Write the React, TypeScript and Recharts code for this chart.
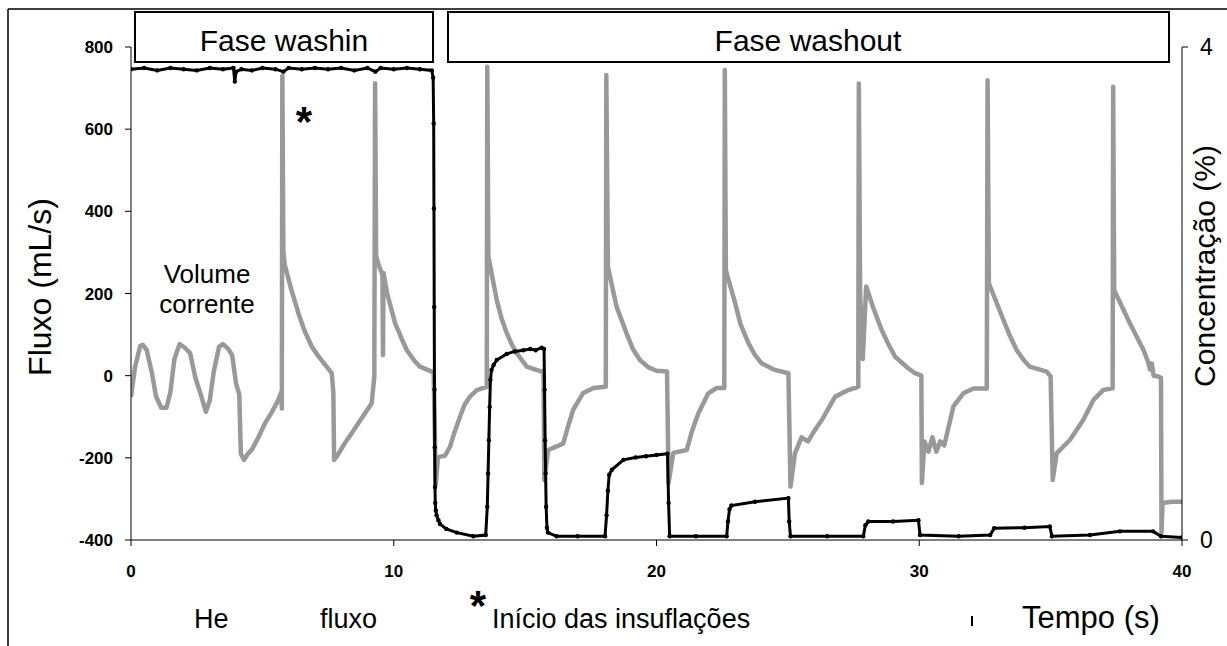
import React from 'react';
import { ComposedChart, Line, XAxis, YAxis } from 'recharts';

// Flow (mL/s), gray series, left axis
const flowTime: number[] = [
  0, 0.15, 0.35, 0.45, 0.6, 0.8, 0.95, 1.15, 1.35, 1.5, 1.65, 1.85, 2.05, 2.25, 2.45, 2.65, 2.85, 3.0, 3.15, 3.35,
  3.5, 3.7, 3.85, 4.0, 4.12, 4.18, 4.3, 4.45, 4.6, 4.85, 5.1, 5.35, 5.6, 5.72, 5.74, 5.76, 5.8, 5.85, 6.1, 6.37,
  6.6, 6.88, 7.1, 7.39, 7.64, 7.7, 7.73, 7.85, 8.14, 8.4, 8.65, 8.9, 9.16, 9.26, 9.29, 9.33, 9.45, 9.57, 9.59, 9.61,
  9.75, 10.05, 10.3, 10.5, 10.8, 11.0, 11.45, 11.52, 11.6, 11.68, 11.76, 11.95, 12.14, 12.3, 12.52, 12.7, 12.9, 13.16, 13.54, 13.56,
  13.6, 13.92, 14.1, 14.3, 14.5, 14.68, 15.06, 15.63, 15.7, 15.73, 15.88, 16.2, 16.45, 16.65, 16.83, 17.2, 17.6, 18.07, 18.09, 18.15,
  18.48, 18.86, 19.1, 19.37, 19.7, 20.0, 20.4, 20.46, 20.64, 21.15, 21.35, 21.6, 21.97, 22.29, 22.58, 22.6, 22.64, 22.99, 23.2, 23.5,
  23.75, 24.0, 24.5, 25.02, 25.1, 25.27, 25.52, 25.77, 26.0, 26.29, 26.8, 27.3, 27.68, 27.7, 27.75, 27.85, 27.98, 28.25, 28.57, 28.8,
  29.08, 29.58, 29.84, 30.08, 30.1, 30.2, 30.35, 30.5, 30.65, 30.8, 30.95, 31.3, 31.68, 32.06, 32.57, 32.6, 32.65, 33.2, 33.45, 33.7,
  33.95, 34.2, 34.85, 35.0, 35.08, 35.23, 35.74, 36.24, 36.63, 37.0, 37.36, 37.38, 37.42, 38.02, 38.53, 38.7, 38.78, 38.85, 38.92, 39.1,
  39.2, 39.22, 39.26, 39.6, 40.0,
];
const flowValue: number[] = [
  -52, 20, 72, 75, 62, 5, -50, -78, -78, -40, 40, 77, 68, 55, -5, -45, -88, -60, 10, 70,
  77, 65, 50, -20, -45, -190, -205, -190, -180, -150, -116, -90, -60, -40, -80, 730, 300, 270, 210, 152,
  110, 71, 50, 26, 6, -40, -205, -195, -164, -140, -116, -92, -67, -2, 712, 290, 265, 245, 50, 250,
  200, 128, 90, 62, 35, 22, 10, 5, -265, -200, -197, -195, -173, -140, -100, -70, -51, -35, -27, 752,
  290, 184, 140, 104, 75, 55, 22, 10, 12, -254, -181, -172, -165, -120, -83, -43, -30, -27, 732, 265,
  168, 103, 65, 38, 20, 12, 10, -261, -188, -181, -135, -91, -43, -30, -30, 744, 257, 177, 125, 79,
  50, 30, 14, 6, -270, -189, -150, -160, -135, -108, -51, -35, -27, 711, 200, 40, 217, 165, 111, 80,
  46, 18, 6, 0, -261, -160, -185, -150, -185, -160, -170, -75, -43, -31, -31, 719, 225, 136, 97, 63,
  40, 22, 10, -2, -254, -189, -156, -108, -59, -35, -31, 703, 208, 127, 63, 35, 15, 30, 0, -2,
  -5, -383, -310, -307, -307,
];

// He concentration (%), black series, right axis
const concTime: number[] = [
  0, 0.5, 1.0, 1.5, 2.0, 2.5, 3.0, 3.5, 3.9, 3.95, 4.0, 4.2, 4.6, 5.0, 5.5, 5.8, 6.0, 6.5, 7.0, 7.5,
  8.0, 8.5, 9.0, 9.3, 9.5, 10.0, 10.5, 11.0, 11.45, 11.5, 11.52, 11.53, 11.54, 11.55, 11.56, 11.57, 11.58, 11.6, 11.63, 11.7,
  11.76, 12.0, 12.4, 13.03, 13.5, 13.56, 13.59, 13.62, 13.65, 13.68, 13.72, 13.8, 13.92, 14.3, 14.6, 14.93, 15.2, 15.4, 15.63, 15.72,
  15.74, 15.76, 15.78, 15.8, 15.83, 15.87, 16.2, 17.0, 18.04, 18.1, 18.15, 18.2, 18.3, 18.74, 19.2, 19.6, 20.0, 20.42, 20.46, 20.5,
  21.5, 22.67, 22.72, 22.78, 22.85, 23.75, 25.02, 25.05, 25.1, 26.5, 27.87, 27.95, 28.06, 29.0, 29.97, 30.03, 31.5, 32.7, 32.85, 34.0,
  34.97, 35.05, 36.5, 37.64, 38.9, 39.2, 40.0,
];
const concValue: number[] = [
  3.82, 3.83, 3.81, 3.83, 3.82, 3.81, 3.83, 3.82, 3.83, 3.72, 3.8, 3.82, 3.81, 3.83, 3.82, 3.8, 3.83, 3.82, 3.83, 3.82,
  3.83, 3.81, 3.83, 3.8, 3.83, 3.82, 3.83, 3.82, 3.81, 3.75, 3.38, 2.69, 1.89, 1.22, 0.75, 0.43, 0.3, 0.24, 0.2, 0.16,
  0.13, 0.09, 0.06, 0.03, 0.04, 0.27, 0.54, 0.81, 1.08, 1.3, 1.38, 1.42, 1.46, 1.51, 1.53, 1.54, 1.55, 1.54, 1.56, 1.55,
  1.22, 0.81, 0.54, 0.27, 0.1, 0.06, 0.03, 0.03, 0.03, 0.2, 0.4, 0.53, 0.57, 0.65, 0.67, 0.68, 0.69, 0.7, 0.3, 0.03,
  0.03, 0.03, 0.15, 0.25, 0.28, 0.31, 0.34, 0.15, 0.03, 0.03, 0.03, 0.12, 0.15, 0.15, 0.16, 0.04, 0.03, 0.04, 0.095, 0.1,
  0.11, 0.03, 0.04, 0.07, 0.07, 0.03, 0.02,
];

const xTicks = [0, 10, 20, 30, 40];
const leftTicks = [-400, -200, 0, 200, 400, 600, 800];
const rightTicks = [0, 4];

const flowData = flowTime.map((t, i) => ({ t, f: flowValue[i] }));
const concData = concTime.map((t, i) => ({ t, c: concValue[i] }));

const FONT = '"Liberation Sans", Arial, sans-serif';

export default function App() {
  return (
    <div style={{ position: 'absolute', left: 0, top: 0, width: 1227, height: 646, background: '#fff' }}>
      <ComposedChart width={1227} height={646} margin={{ top: 47, right: 0, bottom: 76, left: 0 }}>
        <XAxis
          type="number"
          dataKey="t"
          domain={[0, 40]}
          ticks={xTicks}
          height={30}
          allowDataOverflow
          stroke="#000"
          tickSize={6}
          tickMargin={19}
          tick={{ fill: '#000', fontSize: 17, fontWeight: 'bold', fontFamily: FONT }}
        />
        <YAxis
          yAxisId="left"
          width={131}
          domain={[-400, 800]}
          ticks={leftTicks}
          allowDataOverflow
          stroke="#000"
          tickSize={6}
          tickMargin={12}
          tick={{ fill: '#000', fontSize: 17, fontWeight: 'bold', fontFamily: FONT }}
        />
        <YAxis
          yAxisId="right"
          orientation="right"
          width={45}
          domain={[0, 4]}
          ticks={rightTicks}
          allowDataOverflow
          stroke="#000"
          tickSize={6}
          tickMargin={12}
          tick={{ fill: '#000', fontSize: 23, fontFamily: FONT }}
        />
        <Line
          yAxisId="left"
          data={flowData}
          dataKey="f"
          type="linear"
          stroke="#999999"
          strokeWidth={4.5}
          strokeLinejoin="round"
          dot={false}
          isAnimationActive={false}
        />
        <Line
          yAxisId="right"
          data={concData}
          dataKey="c"
          type="linear"
          stroke="#000"
          strokeWidth={3}
          dot={{ r: 2.2, fill: '#000', stroke: '#000', strokeWidth: 0 }}
          isAnimationActive={false}
        />
      </ComposedChart>
      <svg
        width={1227}
        height={646}
        style={{ position: 'absolute', left: 0, top: 0, pointerEvents: 'none' }}
        fontFamily={FONT}
      >
        <line x1={8} y1={9} x2={1227} y2={9} stroke="#000" strokeWidth={1.5} />
        <line x1={8} y1={9} x2={8} y2={646} stroke="#000" strokeWidth={1.5} />
        <rect x={135} y={12} width={298} height={50} fill="#fff" stroke="#000" strokeWidth={2} />
        <text x={284} y={51} fontSize={30} textAnchor="middle" fill="#000">Fase washin</text>
        <rect x={448} y={12} width={721} height={50} fill="#fff" stroke="#000" strokeWidth={2} />
        <text x={808} y={51} fontSize={30} textAnchor="middle" fill="#000">Fase washout</text>
        <text x={304} y={136} fontSize={42} fontWeight="bold" textAnchor="middle" fill="#000">*</text>
        <text x={207} y={283} fontSize={26} textAnchor="middle" fill="#000">Volume</text>
        <text x={207} y={313} fontSize={26} textAnchor="middle" fill="#000">corrente</text>
        <text transform="translate(51,287) rotate(-90)" fontSize={32} textAnchor="middle" fill="#000">Fluxo (mL/s)</text>
        <text transform="translate(1215,266) rotate(-90)" fontSize={30} textAnchor="middle" fill="#000">Concentração (%)</text>
        <text x={194} y={628} fontSize={27} fill="#000">He</text>
        <text x={320} y={628} fontSize={27} fill="#000">fluxo</text>
        <text x={478} y={620} fontSize={42} fontWeight="bold" textAnchor="middle" fill="#000">*</text>
        <text x={492} y={628} fontSize={27} fill="#000">Início das insuflações</text>
        <line x1={972} y1={616} x2={972} y2={626} stroke="#000" strokeWidth={2} />
        <text x={1022} y={628} fontSize={31} fill="#000">Tempo (s)</text>
      </svg>
    </div>
  );
}
